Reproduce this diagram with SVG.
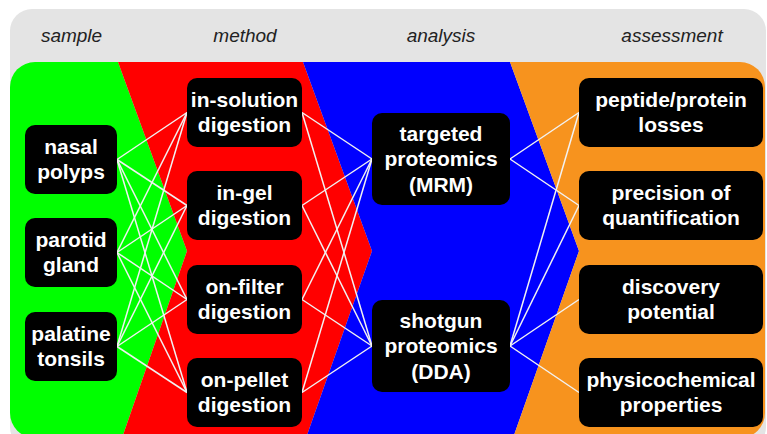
<svg xmlns="http://www.w3.org/2000/svg" width="767" height="434" viewBox="0 0 767 434">
<style>
.hdr{font-family:"Liberation Sans",Arial,sans-serif;font-style:italic;font-size:19px;fill:#222;text-anchor:middle}
.box{fill:#000}
.lbl{font-family:"Liberation Sans",Arial,sans-serif;font-weight:bold;font-size:21px;fill:#fff;text-anchor:middle}
.con line{stroke:#f2f2f2;stroke-width:1.5}
</style>
<defs>
<clipPath id="area"><rect x="10" y="62" width="755" height="376" rx="25"/></clipPath>
</defs>
<rect width="767" height="434" fill="#fff"/>
<rect x="10" y="9" width="756" height="440" rx="22" fill="#e4e4e4"/>
<g clip-path="url(#area)">
<polygon points="10,62 118,62 187,251 122,438 10,438" fill="#00ff00"/>
<polygon points="118,62 303,62 372,251 306,438 122,438 187,251" fill="#ff0000"/>
<polygon points="303,62 510,62 579,251 513,438 306,438 372,251" fill="#0000ff"/>
<polygon points="510,62 770,62 770,438 513,438 579,251" fill="#f7931e"/>
</g>
<text class="hdr" x="71.5" y="42">sample</text>
<text class="hdr" x="245" y="42">method</text>
<text class="hdr" x="441" y="42">analysis</text>
<text class="hdr" x="672" y="42">assessment</text>
<g class="con" id="connectors">
<line x1="117" y1="159.5" x2="187" y2="112.5"/>
<line x1="117" y1="159.5" x2="187" y2="205.5"/>
<line x1="117" y1="159.5" x2="187" y2="299.5"/>
<line x1="117" y1="159.5" x2="187" y2="392.5"/>
<line x1="117" y1="252.5" x2="187" y2="112.5"/>
<line x1="117" y1="252.5" x2="187" y2="205.5"/>
<line x1="117" y1="252.5" x2="187" y2="299.5"/>
<line x1="117" y1="252.5" x2="187" y2="392.5"/>
<line x1="117" y1="346.5" x2="187" y2="112.5"/>
<line x1="117" y1="346.5" x2="187" y2="205.5"/>
<line x1="117" y1="346.5" x2="187" y2="299.5"/>
<line x1="117" y1="346.5" x2="187" y2="392.5"/>
<line x1="302" y1="112.5" x2="372" y2="159"/>
<line x1="302" y1="205.5" x2="372" y2="159"/>
<line x1="302" y1="299.5" x2="372" y2="159"/>
<line x1="302" y1="392.5" x2="372" y2="159"/>
<line x1="302" y1="112.5" x2="372" y2="346"/>
<line x1="302" y1="205.5" x2="372" y2="346"/>
<line x1="302" y1="299.5" x2="372" y2="346"/>
<line x1="302" y1="392.5" x2="372" y2="346"/>
<line x1="510" y1="159" x2="579" y2="112.5"/>
<line x1="510" y1="159" x2="579" y2="205.5"/>
<line x1="510" y1="346" x2="579" y2="112.5"/>
<line x1="510" y1="346" x2="579" y2="205.5"/>
<line x1="510" y1="346" x2="579" y2="299.5"/>
<line x1="510" y1="346" x2="579" y2="392.5"/>
</g>
<g id="nasal-polyps"><rect class="box" x="25" y="125" width="92" height="69" rx="10"/><text class="lbl" x="71" y="153.5">nasal</text><text class="lbl" x="71" y="178.5">polyps</text></g>
<g id="parotid-gland"><rect class="box" x="25" y="218" width="92" height="69" rx="10"/><text class="lbl" x="71" y="246.5">parotid</text><text class="lbl" x="71" y="271.5">gland</text></g>
<g id="palatine-tonsils"><rect class="box" x="25" y="312" width="92" height="69" rx="10"/><text class="lbl" x="71" y="340.5">palatine</text><text class="lbl" x="71" y="365.5">tonsils</text></g>
<g id="in-solution"><rect class="box" x="187" y="78" width="115" height="69" rx="10"/><text class="lbl" x="244.5" y="106.5">in-solution</text><text class="lbl" x="244.5" y="131.5">digestion</text></g>
<g id="in-gel"><rect class="box" x="187" y="171" width="115" height="69" rx="10"/><text class="lbl" x="244.5" y="199.5">in-gel</text><text class="lbl" x="244.5" y="224.5">digestion</text></g>
<g id="on-filter"><rect class="box" x="187" y="265" width="115" height="69" rx="10"/><text class="lbl" x="244.5" y="293.5">on-filter</text><text class="lbl" x="244.5" y="318.5">digestion</text></g>
<g id="on-pellet"><rect class="box" x="187" y="358" width="115" height="69" rx="10"/><text class="lbl" x="244.5" y="386.5">on-pellet</text><text class="lbl" x="244.5" y="411.5">digestion</text></g>
<g id="targeted"><rect class="box" x="372" y="113" width="138" height="92" rx="10"/><text class="lbl" x="441" y="140.5">targeted</text><text class="lbl" x="441" y="166">proteomics</text><text class="lbl" x="441" y="191.5">(MRM)</text></g>
<g id="shotgun"><rect class="box" x="372" y="300" width="138" height="92" rx="10"/><text class="lbl" x="441" y="327.5">shotgun</text><text class="lbl" x="441" y="353">proteomics</text><text class="lbl" x="441" y="378.5">(DDA)</text></g>
<g id="losses"><rect class="box" x="579" y="78" width="184" height="69" rx="10"/><text class="lbl" x="671" y="106.5">peptide/protein</text><text class="lbl" x="671" y="131.5">losses</text></g>
<g id="precision"><rect class="box" x="579" y="171" width="184" height="69" rx="10"/><text class="lbl" x="671" y="199.5">precision of</text><text class="lbl" x="671" y="224.5">quantification</text></g>
<g id="discovery"><rect class="box" x="579" y="265" width="184" height="69" rx="10"/><text class="lbl" x="671" y="293.5">discovery</text><text class="lbl" x="671" y="318.5">potential</text></g>
<g id="physicochemical"><rect class="box" x="579" y="358" width="184" height="69" rx="10"/><text class="lbl" x="671" y="386.5">physicochemical</text><text class="lbl" x="671" y="411.5">properties</text></g>
</svg>
